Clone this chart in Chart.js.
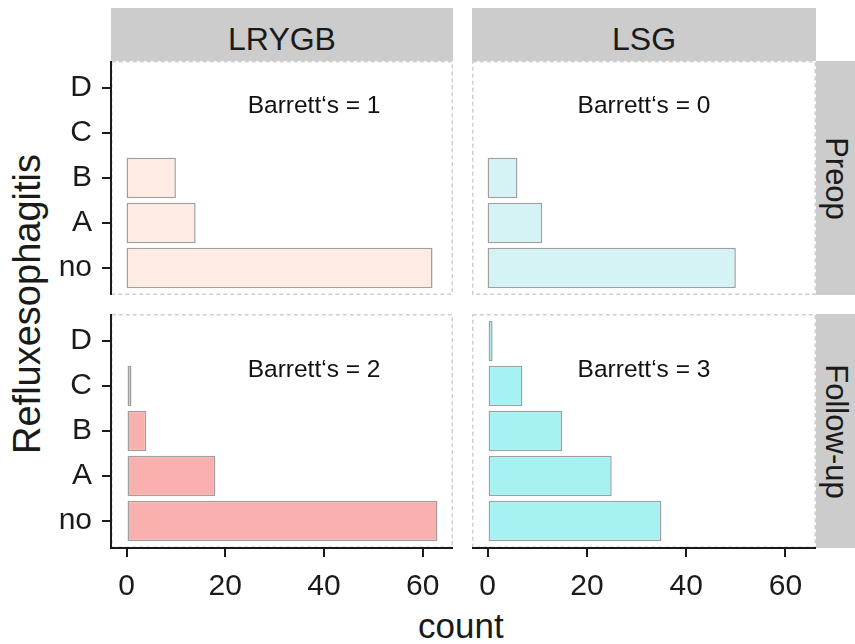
<!DOCTYPE html>
<html>
<head>
<meta charset="utf-8">
<script src="https://cdn.jsdelivr.net/npm/chart.js@4.4.0/dist/chart.umd.min.js"></script>
<style>
  body { margin: 0; background: #fff; font-family: 'Liberation Sans', Arial, sans-serif; color: #1a1a1a; }
  #wrap { position: relative; width: 855px; height: 644px; overflow: hidden; background: #fff; }
  canvas { position: absolute; }
  .strip { position: absolute; background: #cccccc; font-size: 32px; text-align: center; overflow: hidden; }
  .lbl { position: absolute; white-space: nowrap; line-height: 1; transform-origin: center; }
</style>
</head>
<body>
<div id="wrap">
  <div class="strip" style="left:111px;top:8px;width:342px;height:53px;line-height:62px;">LRYGB</div>
  <div class="strip" style="left:472px;top:8px;width:344px;height:53px;line-height:62px;">LSG</div>
  <div class="strip" style="left:816px;top:61px;width:39px;height:234px;"></div>
  <div class="strip" style="left:816px;top:314px;width:39px;height:234px;"></div>
  <div class="lbl" id="preop" style="font-size:31px;">Preop</div>
  <div class="lbl" id="followup" style="font-size:31px;">Follow-up</div>
  <div class="lbl" id="ytitle" style="font-size:38px;">Refluxesophagitis</div>
  <div class="lbl" id="xtitle" style="font-size:35px;">count</div>

  <canvas id="lrygbPre" width="453" height="234" style="left:0;top:61px;"></canvas>
  <canvas id="lsgPre" width="344" height="234" style="left:472px;top:61px;"></canvas>
  <canvas id="lrygbFu" width="453" height="294" style="left:0;top:314px;"></canvas>
  <canvas id="lsgFu" width="344" height="294" style="left:472px;top:314px;"></canvas>
</div>

<script>
// categories (bottom to top) and x ticks
const grades = ['no', 'A', 'B', 'C', 'D'];
const countTicks = [0, 20, 40, 60];

// counts per grade, same order as grades
const lrygbPreop = [62, 14, 10, 0, 0];
const lsgPreop = [50, 11, 6, 0, 0];
const lrygbFollowUp = [63, 18, 4, 1, 0];
const lsgFollowUp = [35, 25, 15, 7, 1];

// Barrett's counts: LRYGB preop, LSG preop, LRYGB follow-up, LSG follow-up
const barretts = [1, 0, 2, 3];

const FONT = "'Liberation Sans', Arial, sans-serif";
const INK = '#1a1a1a';
const TICK_LEN = 9;

// place a label centred on (cx, cy), optionally rotated
function placeLabel(id, cx, cy, rot) {
    const el = document.getElementById(id);
    el.style.left = (cx - el.offsetWidth / 2) + 'px';
    el.style.top = (cy - el.offsetHeight / 2) + 'px';
    if (rot) el.style.transform = `rotate(${rot}deg)`;
}
placeLabel('preop', 836, 178, 90);
placeLabel('followup', 836, 431, 90);
placeLabel('ytitle', 27, 304, -90);
placeLabel('xtitle', 461, 625, 0);

// light dashed panel border, drawn under the axes
const panelBorder = {
    id: 'panelBorder',
    beforeDraw(chart) {
        const { ctx, chartArea: a } = chart;
        ctx.save();
        ctx.strokeStyle = '#cfcfcf';
        ctx.lineWidth = 1.5;
        ctx.setLineDash([4, 3]);
        ctx.strokeRect(a.left + 0.75, a.top + 0.75, a.right - a.left - 1.5, a.bottom - a.top - 1.5);
        ctx.restore();
    }
};

// y tick marks (left of the axis line) at each grade
const yTickMarks = {
    id: 'yTickMarks',
    afterDraw(chart) {
        const y = chart.scales.y;
        if (!y.options.display) return;
        const { ctx, chartArea: a } = chart;
        ctx.save();
        ctx.strokeStyle = INK;
        ctx.lineWidth = 2;
        y.ticks.forEach(t => {
            const py = Math.round(y.getPixelForValue(t.value));
            ctx.beginPath();
            ctx.moveTo(a.left - TICK_LEN, py);
            ctx.lineTo(a.left, py);
            ctx.stroke();
        });
        ctx.restore();
    }
};

// "Barrett's = n" text at a data position
const notePlugin = {
    id: 'note',
    afterDatasetsDraw(chart, args, opts) {
        if (opts.text === undefined) return;
        const { ctx, scales } = chart;
        ctx.save();
        ctx.font = `24.5px ${FONT}`;
        ctx.fillStyle = '#111';
        ctx.textAlign = 'center';
        ctx.textBaseline = 'middle';
        ctx.fillText(opts.text, scales.x.getPixelForValue(opts.x), scales.y.getPixelForValue(opts.y));
        ctx.restore();
    }
};

function makePanel(id, values, colour, o) {
    const axisGrid = {
        drawOnChartArea: false,
        offset: false,
        tickLength: TICK_LEN,
        tickColor: INK,
        tickWidth: 2,
        lineWidth: 2
    };
    new Chart(document.getElementById(id), {
        type: 'bar',
        data: {
            datasets: [{
                data: grades.map((g, i) => ({ x: values[i], y: i })),
                backgroundColor: colour,
                borderColor: '#9f9f9f',
                borderWidth: c => (c.raw && c.raw.x ? 1.5 : 0),
                borderSkipped: false,
                categoryPercentage: 0.9,
                barPercentage: 1
            }]
        },
        options: {
            indexAxis: 'y',
            responsive: false,
            animation: false,
            events: [],
            layout: { padding: 0 },
            plugins: {
                legend: { display: false },
                tooltip: { enabled: false },
                note: { text: `Barrett‘s = ${o.barrett}`, x: o.noteX, y: o.noteY }
            },
            scales: {
                x: {
                    type: 'linear',
                    min: -3.15,
                    max: 66.15,
                    offset: false,
                    display: o.showX,
                    afterBuildTicks: s => { s.ticks = countTicks.map(v => ({ value: v })); },
                    afterFit: s => {
                        if (o.showX) s.height = 60;
                        s.paddingLeft = 0;
                        s.paddingRight = 0;
                    },
                    ticks: { font: { size: 30, family: FONT }, color: INK, padding: 12, maxRotation: 0, autoSkip: false },
                    grid: axisGrid,
                    border: { display: true, color: INK, width: 2 }
                },
                y: {
                    type: 'linear',
                    min: -0.6,
                    max: 4.6,
                    offset: false,
                    display: o.showY,
                    afterBuildTicks: s => { s.ticks = grades.map((g, i) => ({ value: i })); },
                    afterFit: s => {
                        if (o.showY) s.width = 111;
                        s.paddingTop = 0;
                        s.paddingBottom = 0;
                    },
                    ticks: { font: { size: 30, family: FONT }, color: INK, padding: 10, autoSkip: false, callback: v => grades[v] },
                    grid: axisGrid,
                    border: { display: true, color: INK, width: 2 }
                }
            }
        },
        plugins: [panelBorder, yTickMarks, notePlugin]
    });
}

makePanel('lrygbPre', lrygbPreop, '#fdebe4', { showX: false, showY: true, barrett: barretts[0], noteX: 38, noteY: 3.6 });
makePanel('lsgPre', lsgPreop, '#d5f3f4', { showX: false, showY: false, barrett: barretts[1], noteX: 31.5, noteY: 3.6 });
makePanel('lrygbFu', lrygbFollowUp, '#f9b0ae', { showX: true, showY: true, barrett: barretts[2], noteX: 38, noteY: 3.35 });
makePanel('lsgFu', lsgFollowUp, '#a6f2f2', { showX: true, showY: false, barrett: barretts[3], noteX: 31.5, noteY: 3.35 });
</script>
</body>
</html>
